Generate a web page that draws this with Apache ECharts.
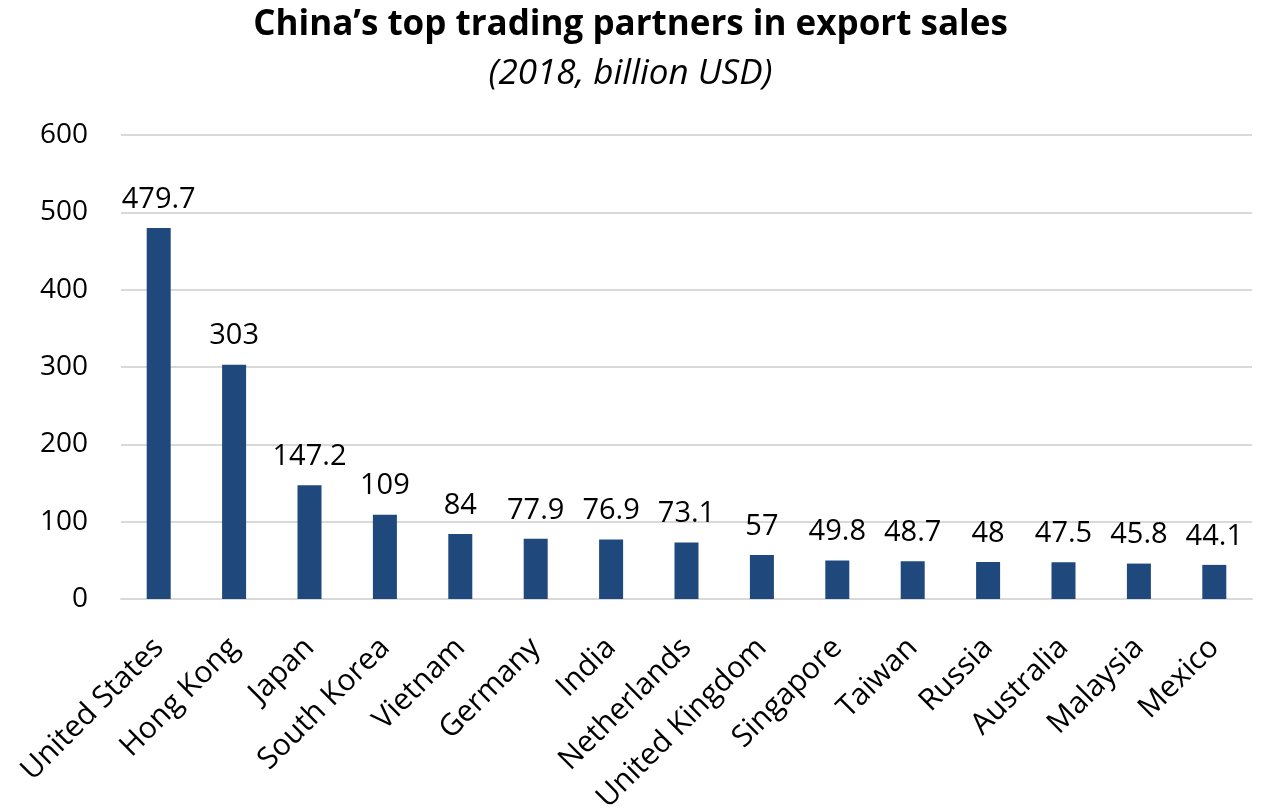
<!DOCTYPE html>
<html>
<head>
<meta charset="utf-8">
<script src="https://cdn.jsdelivr.net/npm/echarts@6/dist/echarts.min.js"></script>
<style>
  html, body { margin: 0; padding: 0; background: #ffffff; }
  #chart { width: 1261px; height: 808px; }
</style>
</head>
<body>
<div id="chart"></div>
<script>
// China's top export destinations, 2018 (billion USD)
const countries = ['United States', 'Hong Kong', 'Japan', 'South Korea', 'Vietnam', 'Germany', 'India',
  'Netherlands', 'United Kingdom', 'Singapore', 'Taiwan', 'Russia', 'Australia', 'Malaysia', 'Mexico'];
const exportsBn = [479.7, 303, 147.2, 109, 84, 77.9, 76.9, 73.1, 57, 49.8, 48.7, 48, 47.5, 45.8, 44.1];

const FONT = '"Open Sans", "Noto Sans", sans-serif';
const chart = echarts.init(document.getElementById('chart'));
chart.setOption({
  animation: false,
  title: {
    text: 'China\u2019s top trading partners in export sales',
    subtext: '(2018, billion USD)',
    left: 'center',
    top: 3,
    itemGap: 14,
    textStyle: { fontFamily: FONT, fontSize: 35, fontWeight: 'bold', color: '#000' },
    subtextStyle: { fontFamily: FONT, fontSize: 35, fontStyle: 'italic', color: '#000' }
  },
  grid: { left: 121, right: 9, top: 135, bottom: 209, outerBoundsMode: 'none' },
  xAxis: {
    type: 'category',
    data: countries,
    axisLine: { lineStyle: { color: '#d9d9d9', width: 2 } },
    axisTick: { show: false },
    axisLabel: { interval: 0, rotate: 45, fontFamily: FONT, fontSize: 30, color: '#000', margin: 44 }
  },
  yAxis: {
    type: 'value',
    min: 0,
    max: 600,
    interval: 100,
    axisLine: { show: false },
    axisTick: { show: false },
    splitLine: { lineStyle: { color: '#d9d9d9', width: 2 } },
    axisLabel: { fontFamily: FONT, fontSize: 28, color: '#000', margin: 33 }
  },
  series: [{
    type: 'bar',
    data: exportsBn,
    barWidth: 24,
    itemStyle: { color: '#1f497d' },
    label: {
      show: true,
      position: 'top',
      distance: 14,
      fontFamily: FONT,
      fontSize: 29,
      color: '#000'
    }
  }]
});
</script>
</body>
</html>
